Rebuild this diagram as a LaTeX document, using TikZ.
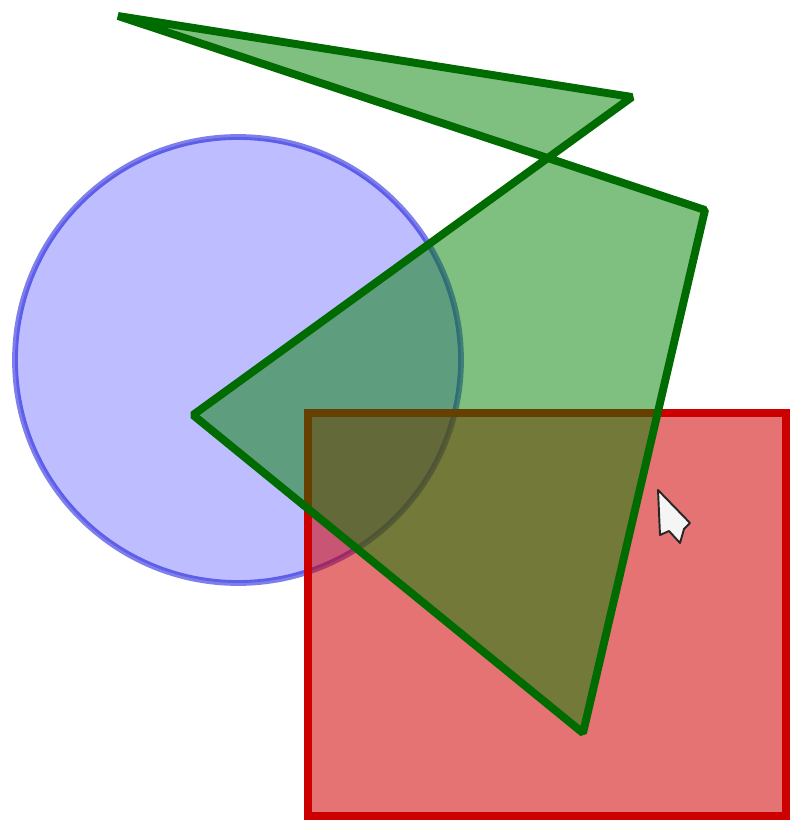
\documentclass[tikz,border=0pt]{standalone}
\usepackage{tikz}
\begin{document}
\begin{tikzpicture}[x=0.02cm,y=-0.02cm,
  disc/.style={draw=blue!85!black,draw opacity=0.5,fill=blue,fill opacity=0.26,line width=3.3pt},
  box/.style={draw=red!80!black,fill=red!82!black,fill opacity=0.55,line width=4.4pt},
  poly/.style={draw=green!42!black,fill=green!50!black,fill opacity=0.5,line width=4.5pt,line join=bevel},
  pointer/.style={draw=black!85,fill=gray!8,line width=1.1pt,line join=round}]
\useasboundingbox (0,0) rectangle (792,824);
% circle, then the box, then the polygon on top
\filldraw[disc](238,360)circle(223);
\filldraw[box](308,413)rectangle(786,816);
\filldraw[poly](118,16)--(632,97)--(193,415)--(583,733)--(705,210)--cycle;
% mouse pointer
\filldraw[pointer](658,490)--(660,535)--(669,531)--(680,543)--(684,529)--(690,523)--cycle;
\end{tikzpicture}
\end{document}
